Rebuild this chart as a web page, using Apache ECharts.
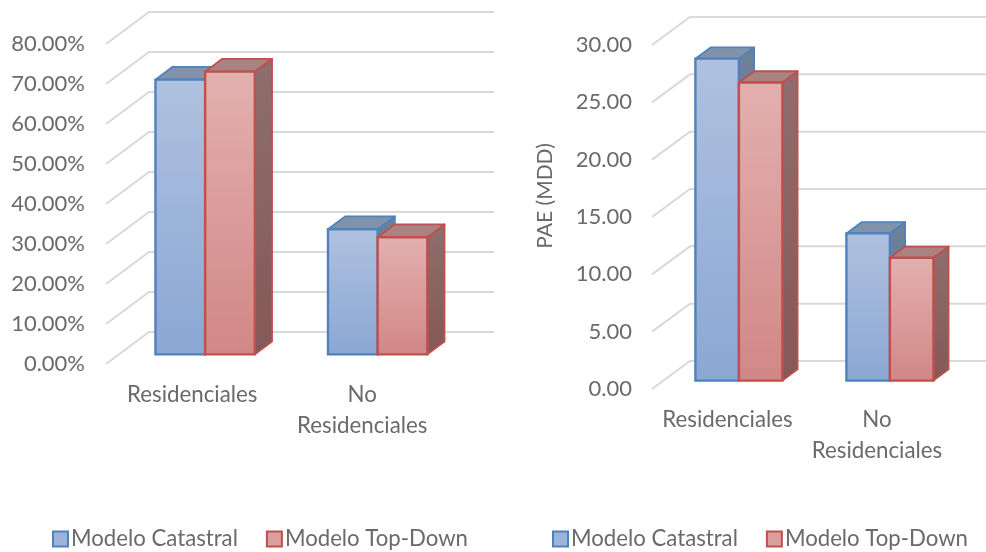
<!DOCTYPE html>
<html>
<head>
<meta charset="utf-8">
<style>html,body{margin:0;padding:0;background:#fff}#c{width:986px;height:552px}</style>
<script src="https://cdn.jsdelivr.net/npm/echarts@6/dist/echarts.min.js"></script>
</head>
<body>
<div id="c"></div>
<script>
const categories = ['Residenciales', 'No\nResidenciales'];
const seriesNames = ['Modelo Catastral', 'Modelo Top-Down'];
const catastralShare = [68.7, 31.3];
const topDownShare = [70.7, 29.3];
const catastralPae = [28.08, 12.84];
const topDownPae = [26.0, 10.71];
const shareTicks = [0, 10, 20, 30, 40, 50, 60, 70, 80];
const paeTicks = [0, 5, 10, 15, 20, 25, 30];

const FONT = 'Lato';
const TEXT = '#6a6a6a';
const BLUE = { line: '#4F81BD', top: '#AFC1DF', bottom: '#8BA7D4', cap: '#8193AB', sideTop: '#6F8199', sideBottom: '#5F7390' };
const RED = { line: '#C0504D', top: '#E3B0AF', bottom: '#D18786', cap: '#A98281', sideTop: '#8F6E6D', sideBottom: '#845857' };
const BAR_FRAC = 0.288, DEPTH_NEAR = 0.3, DEPTH_FAR = 0.7;

function grad(a, b) { return new echarts.graphic.LinearGradient(0, 0, 0, 1, [{ offset: 0, color: a }, { offset: 1, color: b }]); }

function wallSeries(index, dx, dy, ticks) {
  return {
    type: 'custom', name: 'wall' + index, xAxisIndex: index, yAxisIndex: index, silent: true,
    encode: { x: 0, y: 1 },
    data: ticks.map(t => [0, t]),
    renderItem(params, api) {
      const cs = params.coordSys;
      const y = api.coord([0, api.value(1)])[1];
      return {
        type: 'polyline',
        shape: { points: [[cs.x, y], [cs.x + dx, y - dy], [cs.x + cs.width + dx, y - dy]] },
        style: { stroke: '#D9D9D9', lineWidth: 2, fill: null }
      };
    }
  };
}

function barSeries(index, name, values, pal, side, dx, dy) {
  return {
    type: 'custom', name, xAxisIndex: index, yAxisIndex: index, clip: false,
    encode: { x: 0, y: 1 },
    itemStyle: { color: pal.bottom, borderColor: pal.line, borderWidth: 2 },
    data: values.map((v, i) => [i, v]),
    renderItem(params, api) {
      const top = api.coord([api.value(0), api.value(1)]);
      const base = api.coord([api.value(0), 0]);
      const w = api.size([1, 0])[0] * BAR_FRAC;
      const ox = dx * DEPTH_NEAR, oy = dy * DEPTH_NEAR;
      const ddx = dx * (DEPTH_FAR - DEPTH_NEAR), ddy = dy * (DEPTH_FAR - DEPTH_NEAR);
      const x0 = top[0] + ox + (side < 0 ? -w : 0), x1 = x0 + w;
      const yT = top[1] - oy, yB = base[1] - oy;
      const stroke = { stroke: pal.line, lineWidth: 1.8, lineJoin: 'round' };
      return {
        type: 'group',
        children: [
          { type: 'polygon', shape: { points: [[x1, yT], [x1 + ddx, yT - ddy], [x1 + ddx, yB - ddy], [x1, yB]] },
            style: Object.assign({ fill: grad(pal.sideTop, pal.sideBottom) }, stroke) },
          { type: 'polygon', shape: { points: [[x0, yT], [x0 + ddx, yT - ddy], [x1 + ddx, yT - ddy], [x1, yT]] },
            style: Object.assign({ fill: pal.cap }, stroke) },
          { type: 'rect', shape: { x: x0, y: yT, width: w, height: yB - yT },
            style: { fill: grad(pal.top, pal.bottom), stroke: pal.line, lineWidth: 2.4 } }
        ]
      };
    }
  };
}

function legendFor(left) {
  return {
    left, top: 528, padding: 0, itemWidth: 15, itemHeight: 15, itemGap: 28, icon: 'rect',
    textStyle: { fontFamily: FONT, fontSize: 22.2, color: TEXT, padding: [0, 0, 0, -2] },
    data: [
      { name: seriesNames[0], itemStyle: { color: '#9DB3D9', borderColor: BLUE.line, borderWidth: 2 } },
      { name: seriesNames[1], itemStyle: { color: '#DB9E9D', borderColor: RED.line, borderWidth: 2 } }
    ]
  };
}

const axisLabel = { fontFamily: FONT, fontSize: 22, color: TEXT };
const catLabel = Object.assign({}, axisLabel, { fontSize: 22.3, interval: 0, lineHeight: 31, margin: 15, verticalAlign: 'top' });
const secondCategoryPad = [5, 3];

const option = {
  animation: false,
  backgroundColor: '#fff',
  legend: [legendFor(52), legendFor(552)],
  grid: [
    { left: 106, top: 44, width: 345, height: 320 },
    { left: 652, top: 45, width: 302, height: 344 }
  ],
  xAxis: [0, 1].map(i => ({
    type: 'category', gridIndex: i,
    data: categories.map((c, k) => k === 1
      ? { value: c, textStyle: { padding: [0, secondCategoryPad[i], 0, 0] } }
      : c),
    axisLine: { show: false }, axisTick: { show: false }, splitLine: { show: false },
    axisLabel: catLabel
  })),
  yAxis: [
    { type: 'value', gridIndex: 0, min: 0, max: 80, interval: 10,
      axisLine: { show: false }, axisTick: { show: false }, splitLine: { show: false },
      axisLabel: Object.assign({}, axisLabel, { margin: 21, padding: [4, 0, 0, 0], formatter: v => v.toFixed(2) + '%' }) },
    { type: 'value', gridIndex: 1, min: 0, max: 30, interval: 5,
      axisLine: { show: false }, axisTick: { show: false }, splitLine: { show: false },
      name: 'PAE (MDD)', nameLocation: 'middle', nameGap: 96, nameRotate: 90,
      nameTextStyle: { fontFamily: FONT, fontSize: 21, color: TEXT, padding: [0, 0, 0, 42] },
      axisLabel: Object.assign({}, axisLabel, { margin: 20, padding: [4, 0, 0, 0], formatter: v => v.toFixed(2) }) }
  ],
  series: [
    wallSeries(0, 43, 32, shareTicks),
    barSeries(0, seriesNames[0], catastralShare, BLUE, -1, 43, 32),
    barSeries(0, seriesNames[1], topDownShare, RED, 1, 43, 32),
    wallSeries(1, 38, 28, paeTicks),
    barSeries(1, seriesNames[0], catastralPae, BLUE, -1, 38, 28),
    barSeries(1, seriesNames[1], topDownPae, RED, 1, 38, 28)
  ]
};
echarts.init(document.getElementById('c'), null, { renderer: 'canvas' }).setOption(option);
</script>
</body>
</html>
